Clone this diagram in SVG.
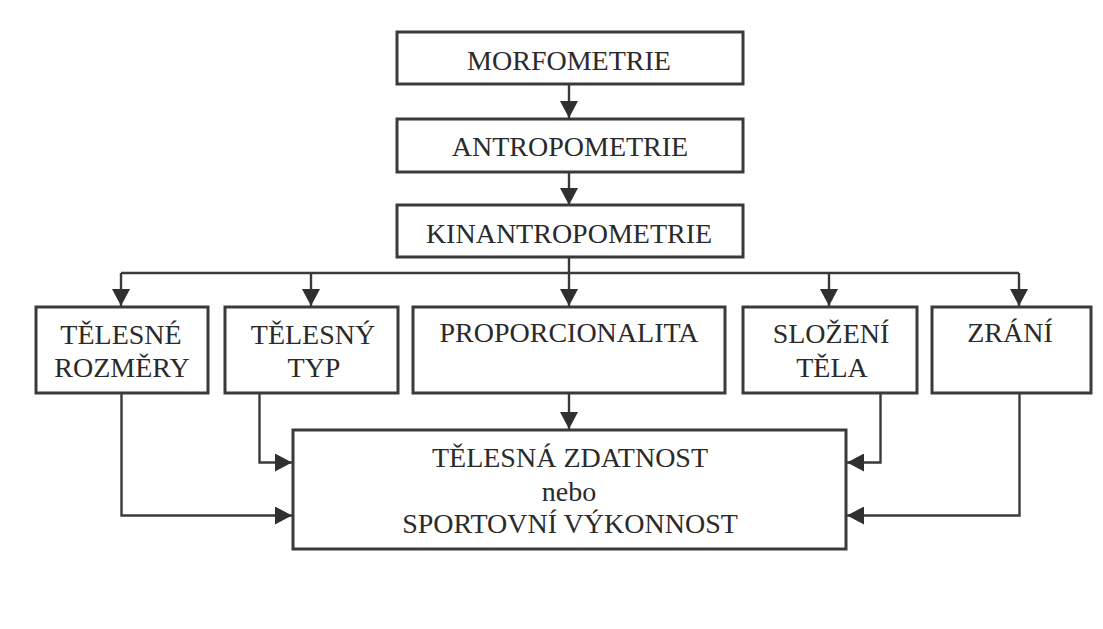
<svg xmlns="http://www.w3.org/2000/svg" width="1103" height="629" viewBox="0 0 1103 629">
  <defs>
    <style>
      .box { fill: #ffffff; stroke: #3a3a3a; stroke-width: 3; }
      .lbl { font-family: "Liberation Serif", "Times New Roman", serif; font-size: 28px; fill: #2a2a2a; text-anchor: middle; }
      .wire { fill: none; stroke: #3a3a3a; stroke-width: 2.4; }
      .head { fill: #303030; }
    </style>
    <!-- filled arrowhead, tip at the path end -->
    <marker id="arrow" viewBox="0 0 17 18" refX="17" refY="9" markerWidth="17" markerHeight="18" markerUnits="userSpaceOnUse" orient="auto">
      <path class="head" d="M0,0 L17,9 L0,18 Z"/>
    </marker>
  </defs>

  <rect width="1103" height="629" fill="#ffffff"/>

  <!-- connectors -->
  <g id="connectors">
    <path class="wire" d="M569,84 V118" marker-end="url(#arrow)"/>
    <path class="wire" d="M569,172 V205" marker-end="url(#arrow)"/>
    <path class="wire" d="M569,257 V273"/>
    <path class="wire" d="M121,273 H1019"/>
    <path class="wire" d="M121,273 V306" marker-end="url(#arrow)"/>
    <path class="wire" d="M311,273 V306" marker-end="url(#arrow)"/>
    <path class="wire" d="M569,273 V306" marker-end="url(#arrow)"/>
    <path class="wire" d="M829,273 V306" marker-end="url(#arrow)"/>
    <path class="wire" d="M1019,273 V306" marker-end="url(#arrow)"/>
    <path class="wire" d="M569,393 V429" marker-end="url(#arrow)"/>
    <path class="wire" d="M121.5,393 V515.5 H292" marker-end="url(#arrow)"/>
    <path class="wire" d="M259.5,393 V462.5 H292" marker-end="url(#arrow)"/>
    <path class="wire" d="M880.5,393 V462.5 H847" marker-end="url(#arrow)"/>
    <path class="wire" d="M1019.5,393 V515.5 H847" marker-end="url(#arrow)"/>
  </g>

  <!-- nodes -->
  <g id="morfometrie">
    <rect class="box" x="397" y="32" width="346" height="52"/>
    <text class="lbl" x="569" y="70">MORFOMETRIE</text>
  </g>
  <g id="antropometrie">
    <rect class="box" x="397" y="119" width="346" height="53"/>
    <text class="lbl" x="570" y="156">ANTROPOMETRIE</text>
  </g>
  <g id="kinantropometrie">
    <rect class="box" x="397" y="205" width="346" height="52"/>
    <text class="lbl" x="569" y="243">KINANTROPOMETRIE</text>
  </g>
  <g id="telesne-rozmery">
    <rect class="box" x="36" y="307" width="172" height="86"/>
    <text class="lbl" x="121" y="344">TĚLESNÉ</text>
    <text class="lbl" x="122" y="377">ROZMĚRY</text>
  </g>
  <g id="telesny-typ">
    <rect class="box" x="225" y="307" width="173" height="86"/>
    <text class="lbl" x="313" y="344">TĚLESNÝ</text>
    <text class="lbl" x="314" y="377">TYP</text>
  </g>
  <g id="proporcionalita">
    <rect class="box" x="413" y="307" width="312" height="86"/>
    <text class="lbl" x="569" y="342">PROPORCIONALITA</text>
  </g>
  <g id="slozeni-tela">
    <rect class="box" x="743" y="307" width="174" height="86"/>
    <text class="lbl" x="831" y="343">SLOŽENÍ</text>
    <text class="lbl" x="832" y="377">TĚLA</text>
  </g>
  <g id="zrani">
    <rect class="box" x="932" y="307" width="159" height="86"/>
    <text class="lbl" x="1010" y="342">ZRÁNÍ</text>
  </g>
  <g id="telesna-zdatnost">
    <rect class="box" x="293" y="430" width="553" height="119"/>
    <text class="lbl" x="570" y="467">TĚLESNÁ ZDATNOST</text>
    <text class="lbl" x="569" y="501">nebo</text>
    <text class="lbl" x="570" y="533">SPORTOVNÍ VÝKONNOST</text>
  </g>
</svg>
